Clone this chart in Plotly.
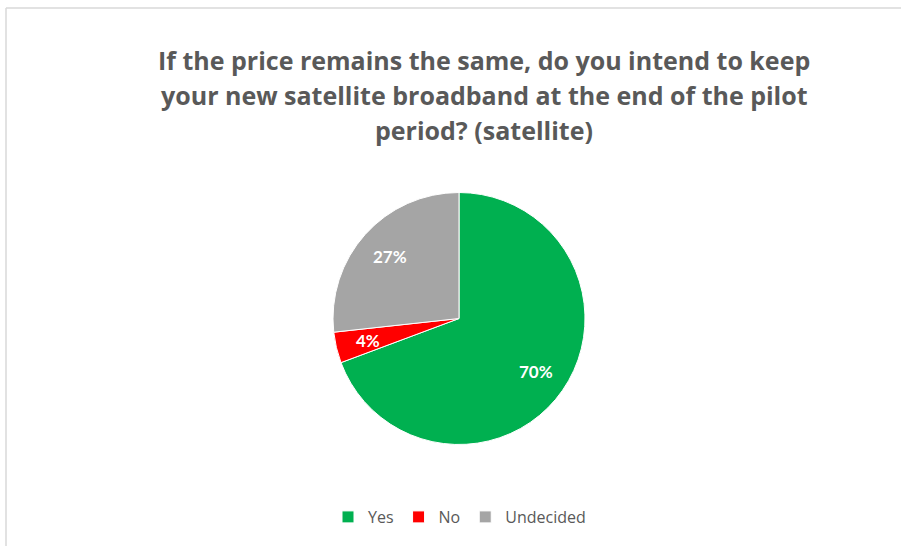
import math
import plotly.graph_objects as go

# Survey responses (satellite pilot)
categories = ["Yes", "No", "Undecided"]
shares = [70, 4, 27]
colors = ["#00B050", "#FF0000", "#A5A5A5"]

title_lines = [
    "If the price remains the same, do you intend to keep",
    "your new satellite broadband at the end of the pilot",
    "period? (satellite)",
]

W, H = 901, 546
# pie placement in pixels: left, right, top, bottom
PX0, PX1, PY0, PY1 = 333, 585, 192, 445

fig = go.Figure(
    go.Pie(
        labels=categories,
        values=shares,
        textinfo="none",
        marker=dict(colors=colors, line=dict(color="white", width=1)),
        sort=False,
        direction="clockwise",
        rotation=0,
        hoverinfo="label+percent",
        domain=dict(x=[PX0 / W, PX1 / W], y=[1 - PY1 / H, 1 - PY0 / H]),
    )
)

# data labels placed along each slice's mid-angle
cx, cy = (PX0 + PX1) / 2, (PY0 + PY1) / 2
radius = min(PX1 - PX0, PY1 - PY0) / 2
total = sum(shares)
annotations = []
cum = 0.0
for v in shares:
    mid = (cum + v / 2) / total * 2 * math.pi
    cum += v
    lx = cx + 0.74 * radius * math.sin(mid)
    ly = cy - 0.74 * radius * math.cos(mid)
    annotations.append(dict(
        text=f"{v}%", x=lx / W, y=1 - ly / H, xref="paper", yref="paper",
        xanchor="center", yanchor="middle", showarrow=False,
        font=dict(family="Lato", size=17, color="white", weight="bold"),
    ))

for i, line in enumerate(title_lines):
    annotations.append(dict(
        text=line, x=484 / W, y=1 - (60 + 35 * i) / H,
        xref="paper", yref="paper", xanchor="center", yanchor="middle",
        showarrow=False,
        font=dict(family="Open Sans", size=25, color="#595959", weight="bold"),
    ))

fig.update_layout(
    width=W,
    height=H,
    margin=dict(l=0, r=0, t=0, b=0),
    paper_bgcolor="white",
    plot_bgcolor="white",
    showlegend=True,
    legend=dict(
        orientation="h",
        x=0.51,
        xanchor="center",
        y=1 - 517 / H,
        yanchor="middle",
        font=dict(family="Open Sans", size=16, color="#595959"),
        itemwidth=30,
        traceorder="normal",
    ),
    annotations=annotations,
    shapes=[
        dict(type="line", xref="paper", yref="paper",
             x0=6 / W, x1=1, y0=1 - 8 / H, y1=1 - 8 / H,
             line=dict(color="#D9D9D9", width=1.5)),
        dict(type="line", xref="paper", yref="paper",
             x0=6 / W, x1=6 / W, y0=0, y1=1 - 8 / H,
             line=dict(color="#D9D9D9", width=1.5)),
    ],
)

fig.write_html("out.html")
